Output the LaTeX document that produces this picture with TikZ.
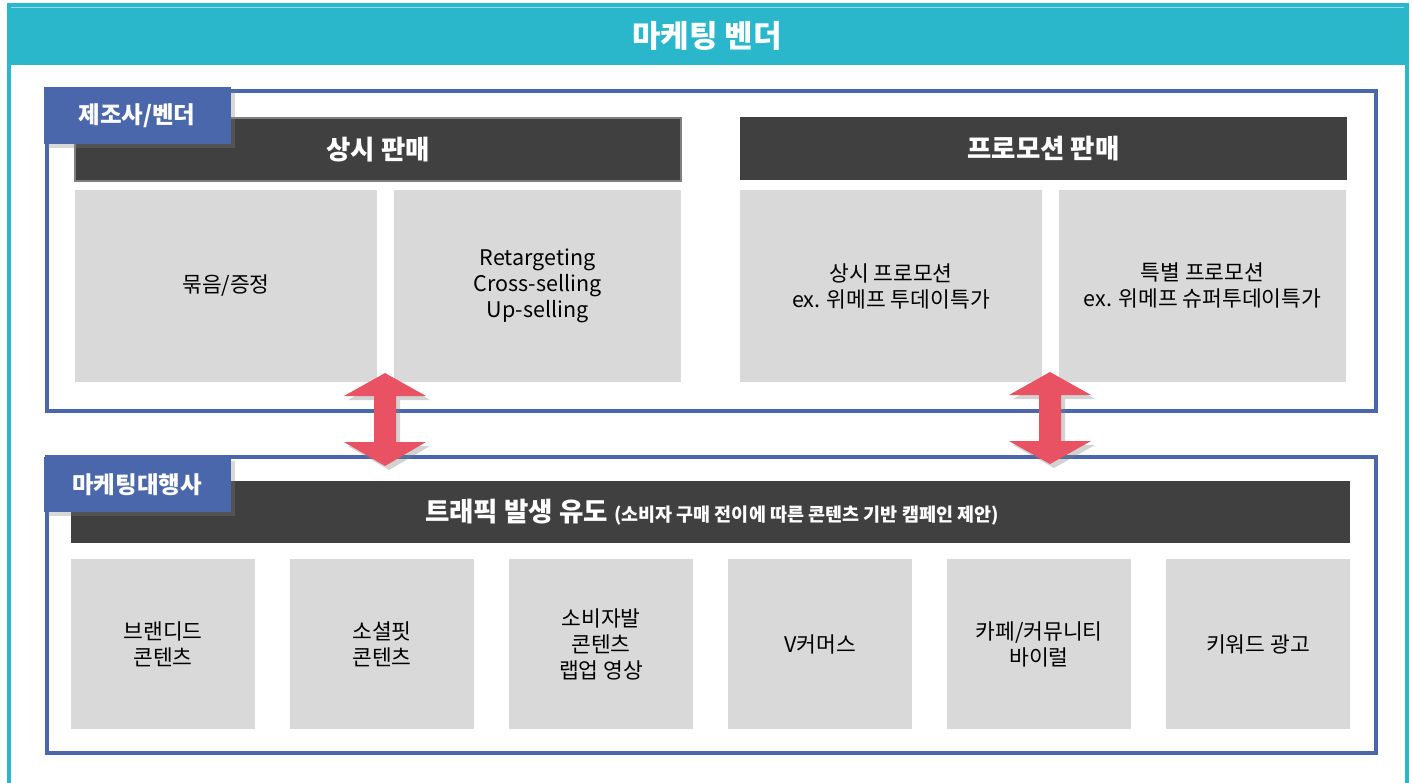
\documentclass[tikz,border=0pt]{standalone}
\usepackage{fontspec}
\setmainfont{Noto Sans CJK KR}
\usetikzlibrary{shadows}

\definecolor{tealband}{HTML}{2AB7CB}
\definecolor{frameblue}{HTML}{4A67AB}
\definecolor{barblack}{HTML}{404040}
\definecolor{barline}{HTML}{7F7F7F}
\definecolor{cellgray}{HTML}{D9D9D9}
\definecolor{arrowred}{HTML}{E85262}

\begin{document}
\begin{tikzpicture}[x=1pt,y=-1pt,
    cell/.style={fill=cellgray, inner sep=0pt, align=center, font=\fontsize{21.5}{26}\selectfont},
    bar/.style={fill=barblack, inner sep=0pt, text=white, font=\bfseries\fontsize{26.5}{30}\selectfont},
    tag/.style={fill=frameblue, inner sep=0pt, text=white, font=\bfseries\fontsize{23.5}{27}\selectfont,
        drop shadow={opacity=0.3, shadow xshift=4pt, shadow yshift=-4pt}},
    group/.style={draw=frameblue, line width=4pt, inner sep=0pt},
    updown/.style={fill=arrowred, drop shadow={opacity=0.35, shadow xshift=4pt, shadow yshift=-4pt}}]
  \clip (0,0) rectangle (1412,782);
  \fill[white] (0,0) rectangle (1412,782);

  % Rahmen oben
  \fill[tealband] (7,3) rectangle (1409,65);
  \draw[white, opacity=0.5, line width=1pt] (11,7) -- (1404,7);
  \draw[tealband, line width=4pt] (9,60) -- (9,800);
  \draw[tealband, line width=4pt] (1406.5,60) -- (1406.5,800);
  \node[text=white, font=\bfseries\fontsize{31}{36}\selectfont] (title) at (707,36) {마케팅 벤더};

  % Gruppen
  \node[group, minimum width=1328.5pt, minimum height=320.5pt] (vendor) at (711.25,250.75) {};
  \node[group, minimum width=1328.5pt, minimum height=296.5pt] (agency) at (711.25,604.75) {};

  % Balken
  \node[bar, draw=barline, line width=1.5pt, minimum width=606pt, minimum height=63pt] (regular) at (378,149.5) {상시 판매};
  \node[bar, minimum width=607pt, minimum height=63pt] (promo) at (1043.5,148.5) {프로모션 판매};
  \node[bar, minimum width=1279pt, minimum height=62pt] (traffic) at (710.5,512)
    {\hspace{3pt}트래픽 발생 유도 {\fontsize{18.5}{22}\selectfont(소비자 구매 전이에 따른 콘텐츠 기반 캠페인 제안)}};

  % Zellen oben
  \node[cell, minimum width=302pt, minimum height=192pt] (bundle) at (226,286) {묶음/증정};
  \node[cell, minimum width=287pt, minimum height=192pt] (retarget) at (537.5,286) {Retargeting\\Cross-selling\\Up-selling};
  \node[cell, minimum width=302pt, minimum height=192pt] (always) at (891,286) {상시 프로모션\\ex. 위메프 투데이특가};
  \node[cell, minimum width=287pt, minimum height=192pt] (special) at (1202.5,286) {특별 프로모션\\ex. 위메프 슈퍼투데이특가};

  % Zellen unten
  \node[cell, minimum width=184pt, minimum height=170pt] (branded) at (163,644) {브랜디드\\콘텐츠};
  \node[cell, minimum width=184pt, minimum height=170pt] (social) at (382,644) {소셜핏\\콘텐츠};
  \node[cell, minimum width=184pt, minimum height=170pt] (consumer) at (601,644) {소비자발\\콘텐츠\\랩업 영상};
  \node[cell, minimum width=184pt, minimum height=170pt] (vcommerce) at (820,644) {V커머스};
  \node[cell, minimum width=184pt, minimum height=170pt] (cafe) at (1039,644) {카페/커뮤니티\\바이럴};
  \node[cell, minimum width=184pt, minimum height=170pt] (keyword) at (1258,644) {키워드 광고};

  % Etiketten
  \node[tag, minimum width=187pt, minimum height=57pt] (maker) at (137,115.5) {제조사/벤더};
  \node[tag, minimum width=187pt, minimum height=55pt] (agent) at (137,484.5) {마케팅대행사};

  % Pfeile
  \fill[updown] (385,373) -- (426,396) -- (396,396) -- (396,442) -- (426,442) -- (385,466)
    -- (344,442) -- (374,442) -- (374,396) -- (344,396) -- cycle;
  \fill[updown] (1050,372) -- (1091,395) -- (1061,395) -- (1061,441) -- (1091,441) -- (1050,464)
    -- (1009,441) -- (1039,441) -- (1039,395) -- (1009,395) -- cycle;
\end{tikzpicture}
\end{document}
